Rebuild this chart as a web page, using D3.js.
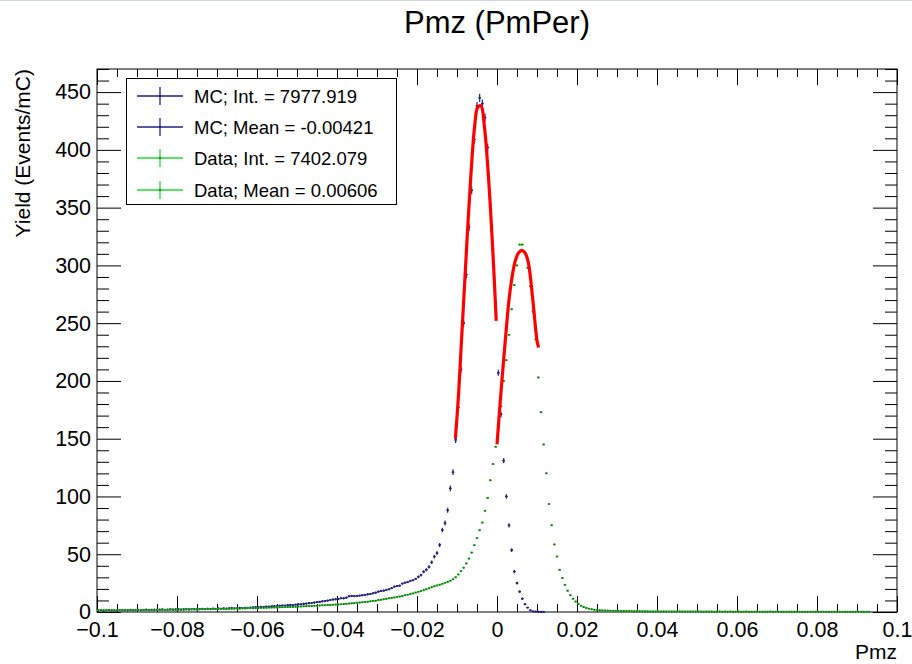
<!DOCTYPE html>
<html>
<head>
<meta charset="utf-8">
<script src="https://cdn.jsdelivr.net/npm/d3@7"></script>
<style>
  body { margin: 0; background: #fff; }
  svg { display: block; }
  text { font-family: "Liberation Sans", Arial, Helvetica, sans-serif; fill: #000; }
</style>
</head>
<body>
<div id="chart"></div>
<script>
// histogram binning: 300 bins over [-0.1, 0.1]
const nBins = 300;
const xMin = -0.1, xMax = 0.1;

// MC yield per bin (Events/mC); bins past the end of the list are empty
const mcCounts = [
  1.2, 1.5, 1.1, 1.4, 1.6, 1.3, 1.5, 1.2, 1.7, 1.5,
  1.6, 1.4, 1.8, 1.5, 1.7, 1.9, 1.6, 1.8, 2.0, 1.7,
  1.9, 2.1, 1.8, 2.0, 2.2, 1.9, 2.1, 2.3, 2.0, 2.2,
  2.4, 2.1, 2.3, 2.5, 2.2, 2.4, 2.6, 2.3, 2.5, 2.7,
  2.6, 2.8, 2.5, 2.9, 2.7, 3.0, 2.8, 3.1, 2.9, 3.2,
  3.3, 3.1, 3.4, 3.6, 3.3, 3.7, 3.5, 3.8, 4.0, 4.2,
  4.1, 4.4, 4.3, 4.7, 4.6, 4.9, 5.1, 5.0, 5.4, 5.6,
  5.5, 5.9, 6.1, 6.0, 6.4, 6.7, 6.6, 7.1, 7.3, 7.6,
  7.8, 8.2, 8.5, 8.7, 9.2, 9.5, 9.9, 10.4, 10.8, 11.0,
  11.3, 11.9, 11.8, 12.4, 13.6, 13.9, 13.7, 13.9, 14.2, 14.5,
  14.8, 15.3, 15.6, 16.2, 16.7, 17.6, 18.2, 18.5, 19.1, 19.7,
  20.6, 21.9, 22.5, 22.8, 24.6, 25.4, 25.9, 26.9, 27.5, 28.6,
  30.4, 32.0, 34.8, 36.5, 39.0, 43.0, 48.0, 51.0, 58.0, 71.0,
  77, 88, 107, 121, 149, 177, 210, 250, 292, 333,
  365, 409, 438, 445, 440, 428, 402, 353, 314, 263,
  207, 171, 131, 100, 75, 53.5, 35, 25, 17.6, 11.5,
  6.7, 3.8, 1.5, 0.6, 0.3, 0.2, 0.1, 0.1
];

// Data yield per bin (Events/mC)
const dataCounts = [
  1.5, 1.4, 1.6, 1.3, 1.5, 1.6, 1.4, 1.5, 1.7, 1.5,
  1.6, 1.5, 1.7, 1.6, 1.5, 1.7, 1.8, 1.6, 1.7, 1.9,
  1.8, 1.7, 1.9, 1.8, 2.0, 1.9, 1.8, 2.0, 2.1, 1.9,
  2.0, 2.1, 2.0, 2.2, 2.1, 2.3, 2.2, 2.1, 2.3, 2.4,
  2.3, 2.5, 2.4, 2.6, 2.5, 2.7, 2.6, 2.8, 2.7, 2.9,
  2.8, 3.0, 3.1, 2.9, 3.2, 3.1, 3.3, 3.4, 3.3, 3.5,
  3.5, 3.6, 3.6, 3.7, 3.8, 3.8, 3.9, 4.0, 4.1, 4.1,
  4.2, 4.3, 4.4, 4.4, 4.6, 4.7, 4.8, 4.9, 5.0, 5.1,
  5.3, 5.4, 5.5, 5.6, 5.8, 5.9, 6.0, 6.1, 6.3, 6.4,
  6.5, 6.7, 6.9, 7.1, 7.3, 7.5, 7.7, 8.0, 8.2, 8.5,
  8.7, 8.9, 9.2, 9.5, 9.8, 10.3, 10.6, 11.0, 11.4, 11.8,
  12.2, 12.6, 13.0, 13.4, 13.8, 14.5, 15.0, 15.5, 16.1, 16.8,
  17.5, 18.2, 18.9, 19.7, 20.5, 21.4, 22.3, 23.0, 23.6, 24.4,
  25.3, 26.2, 27.1, 28.3, 30.0, 32.5, 35.3, 38.4, 42.0, 46.2,
  51.4, 57.8, 63.9, 70.8, 77.4, 87.6, 98.6, 114, 128, 143,
  160, 178, 200, 218, 240, 262, 283, 300, 318, 318,
  311, 298, 282, 260, 236, 203, 173, 145, 120, 93.4,
  75, 58.5, 48, 36.5, 29.5, 23.5, 18.5, 14.5, 11.5, 9.0,
  7.0, 5.5, 4.4, 3.5, 2.9, 2.4, 2.0, 1.7, 1.5, 1.4,
  1.3, 1.2, 1.1, 1.0, 1.0, 0.9, 0.9, 0.8, 0.8, 0.8,
  0.7, 0.7, 0.7, 0.6, 0.6, 0.6, 0.6, 0.5, 0.5, 0.5,
  0.5, 0.4, 0.5, 0.5, 0.4, 0.5, 0.4, 0.4, 0.5, 0.4,
  0.4, 0.4, 0.5, 0.4, 0.4, 0.4, 0.4, 0.3, 0.4, 0.4,
  0.4, 0.3, 0.4, 0.4, 0.3, 0.4, 0.3, 0.4, 0.3, 0.3,
  0.4, 0.3, 0.3, 0.4, 0.3, 0.3, 0.3, 0.4, 0.3, 0.3,
  0.3, 0.3, 0.4, 0.3, 0.3, 0.3, 0.3, 0.3, 0.3, 0.3,
  0.3, 0.3, 0.3, 0.2, 0.3, 0.3, 0.3, 0.3, 0.2, 0.3,
  0.3, 0.3, 0.2, 0.3, 0.3, 0.2, 0.3, 0.3, 0.3, 0.2,
  0.3, 0.2, 0.3, 0.3, 0.2, 0.3, 0.2, 0.3, 0.2, 0.3
];

// MC error bars: read for the peak region, small elsewhere
const mcErrStart = 120;
const mcErrPeak = [
  1.2, 1.2, 1.3, 1.3, 1.4, 1.5, 1.6, 1.7, 1.8, 2.0,
  2.1, 2.2, 2.4, 2.5, 2.7, 2.8, 2.9, 3.0, 3.1, 3.2,
  3.3, 3.4, 3.5, 3.5, 3.5, 3.5, 3.4, 3.2, 3.0, 2.8,
  2.6, 2.4, 2.2, 2.0, 1.8, 1.6, 1.4, 1.2, 1.0, 0.9,
  0.8, 0.6, 0.4, 0.3
];
const mcErrTail = 0.8;
const dataErr = 0.5;

// fitted curves (red)
const mcFitX = [-0.0104, -0.0096, -0.0088, -0.0080, -0.0072, -0.0064, -0.0056, -0.0048, -0.0040, -0.0032, -0.0024, -0.0016, -0.0008, -0.0002];
const mcFitY = [150, 189, 240, 290, 340, 385, 420, 437, 438, 422, 390, 347, 296, 252];
const dataFitX = [0.0000, 0.0009, 0.0020, 0.0032, 0.0045, 0.0054, 0.0062, 0.0070, 0.0078, 0.0089, 0.0100, 0.0104];
const dataFitY = [145, 186, 232, 276, 303, 311, 313, 311, 303, 272, 235, 229];

const xTicks = [-0.1, -0.08, -0.06, -0.04, -0.02, 0, 0.02, 0.04, 0.06, 0.08, 0.1];
const yTicks = [0, 50, 100, 150, 200, 250, 300, 350, 400, 450];

const legendLabels = [
  'MC; Int. = 7977.919',
  'MC; Mean = -0.00421',
  'Data; Int. = 7402.079',
  'Data; Mean = 0.00606'
];

const MC_COLOR = '#21217f';
const DATA_LINE = '#22dd22';
const DATA_MARK = '#1f6f1f';

const W = 912, H = 664;
const frame = { left: 97, right: 897, top: 69, bottom: 612 };

const svg = d3.select('#chart').append('svg').attr('width', W).attr('height', H);
svg.append('rect').attr('width', W).attr('height', H).attr('fill', '#fff');
svg.append('line').attr('x1', 0).attr('x2', W).attr('y1', 0.5).attr('y2', 0.5)
  .attr('stroke', '#cdd6de').attr('stroke-width', 1);

const x = d3.scaleLinear().domain([xMin, xMax]).range([frame.left, frame.right]);
const y = d3.scaleLinear().domain([0, 470]).range([frame.bottom, frame.top]);

const binW = (xMax - xMin) / nBins;
const fmt = d3.format('~g');

// minor tick positions
const xMinor = d3.range(-100, 101, 5).map(k => k / 1000).filter(v => Math.abs(Math.round(v * 1000) % 20) !== 0);
const yMinor = d3.range(0, 471, 10).filter(v => v % 50 !== 0);

function styleAxis(g) {
  g.select('.domain').remove();
  g.selectAll('line').attr('stroke', '#000').attr('stroke-width', 1);
}

// bottom axis
svg.append('g').attr('transform', `translate(0,${frame.bottom})`)
  .call(d3.axisBottom(x).tickValues(xTicks).tickSize(-16).tickPadding(10).tickFormat(fmt))
  .call(styleAxis)
  .call(g => g.selectAll('text').attr('font-size', 21.5));
svg.append('g').attr('transform', `translate(0,${frame.bottom})`)
  .call(d3.axisBottom(x).tickValues(xMinor).tickSize(-8).tickFormat(''))
  .call(styleAxis);
// top axis ticks
svg.append('g').attr('transform', `translate(0,${frame.top})`)
  .call(d3.axisTop(x).tickValues(xTicks).tickSize(-16).tickFormat(''))
  .call(styleAxis);
svg.append('g').attr('transform', `translate(0,${frame.top})`)
  .call(d3.axisTop(x).tickValues(xMinor).tickSize(-8).tickFormat(''))
  .call(styleAxis);
// left axis
svg.append('g').attr('transform', `translate(${frame.left},0)`)
  .call(d3.axisLeft(y).tickValues(yTicks).tickSize(-24).tickPadding(6).tickFormat(fmt))
  .call(styleAxis)
  .call(g => g.selectAll('text').attr('font-size', 21.5));
svg.append('g').attr('transform', `translate(${frame.left},0)`)
  .call(d3.axisLeft(y).tickValues(yMinor).tickSize(-12).tickFormat(''))
  .call(styleAxis);
// right axis ticks
svg.append('g').attr('transform', `translate(${frame.right},0)`)
  .call(d3.axisRight(y).tickValues(yTicks).tickSize(-24).tickFormat(''))
  .call(styleAxis);
svg.append('g').attr('transform', `translate(${frame.right},0)`)
  .call(d3.axisRight(y).tickValues(yMinor).tickSize(-12).tickFormat(''))
  .call(styleAxis);

// frame
svg.append('rect')
  .attr('x', frame.left).attr('y', frame.top)
  .attr('width', frame.right - frame.left).attr('height', frame.bottom - frame.top)
  .attr('fill', 'none').attr('stroke', '#000').attr('stroke-width', 1);

// histogram points with error bars
function binsOf(counts, errFn) {
  return counts.map((v, i) => ({
    i, v,
    lo: xMin + i * binW,
    hi: xMin + (i + 1) * binW,
    c: xMin + (i + 0.5) * binW,
    e: errFn(i)
  })).filter(d => d.v > 0);
}

const mcBins = binsOf(mcCounts, i => (i >= mcErrStart && i < mcErrStart + mcErrPeak.length) ? mcErrPeak[i - mcErrStart] : mcErrTail);
const dataBins = binsOf(dataCounts, () => dataErr);

function drawHist(bins, lineColor, markColor, r, lw) {
  const g = svg.append('g');
  g.selectAll('line.h').data(bins).join('line').attr('class', 'h')
    .attr('x1', d => x(d.lo)).attr('x2', d => x(d.hi))
    .attr('y1', d => y(d.v)).attr('y2', d => y(d.v))
    .attr('stroke', lineColor).attr('stroke-width', lw);
  g.selectAll('line.v').data(bins).join('line').attr('class', 'v')
    .attr('x1', d => x(d.c)).attr('x2', d => x(d.c))
    .attr('y1', d => y(Math.max(0, d.v - d.e))).attr('y2', d => y(d.v + d.e))
    .attr('stroke', lineColor).attr('stroke-width', lw);
  g.selectAll('circle').data(bins).join('circle')
    .attr('cx', d => x(d.c)).attr('cy', d => y(d.v)).attr('r', r)
    .attr('fill', markColor);
}

drawHist(mcBins, MC_COLOR, MC_COLOR, 1.1, 1.2);
drawHist(dataBins, DATA_LINE, DATA_MARK, 1.0, 1.6);

// fits
const fitLine = d3.line().x(d => x(d[0])).y(d => y(d[1])).curve(d3.curveCatmullRom);
[[mcFitX, mcFitY], [dataFitX, dataFitY]].forEach(([xs, ys]) => {
  svg.append('path')
    .attr('d', fitLine(xs.map((v, k) => [v, ys[k]])))
    .attr('fill', 'none').attr('stroke', '#ff0000').attr('stroke-width', 3.2)
    .attr('stroke-linecap', 'butt');
});

// titles
svg.append('text').attr('x', 497).attr('y', 33).attr('text-anchor', 'middle')
  .attr('font-size', 31).text('Pmz (PmPer)');
svg.append('text').attr('x', frame.right).attr('y', 659).attr('text-anchor', 'end')
  .attr('font-size', 21).text('Pmz');
svg.append('text').attr('transform', `translate(30,${frame.top}) rotate(-90)`)
  .attr('text-anchor', 'end').attr('font-size', 21).text('Yield (Events/mC)');

// legend
const leg = svg.append('g');
leg.append('rect').attr('x', 126.5).attr('y', 78.5).attr('width', 270).attr('height', 126)
  .attr('fill', '#fff').attr('stroke', '#000').attr('stroke-width', 1);
const legY = [96, 127, 158, 190];
const legColors = [MC_COLOR, MC_COLOR, DATA_LINE, DATA_LINE];
const legMarks = [MC_COLOR, MC_COLOR, DATA_MARK, DATA_MARK];
legendLabels.forEach((lab, k) => {
  const yy = legY[k];
  leg.append('line').attr('x1', 137).attr('x2', 183).attr('y1', yy).attr('y2', yy)
    .attr('stroke', legColors[k]).attr('stroke-width', 1.3);
  leg.append('line').attr('x1', 160).attr('x2', 160).attr('y1', yy - 9).attr('y2', yy + 9)
    .attr('stroke', legColors[k]).attr('stroke-width', 1.3);
  leg.append('circle').attr('cx', 160).attr('cy', yy).attr('r', 1).attr('fill', legMarks[k]);
  leg.append('text').attr('x', 194).attr('y', yy).attr('dy', '0.36em')
    .attr('font-size', 18.5).text(lab);
});
</script>
</body>
</html>
